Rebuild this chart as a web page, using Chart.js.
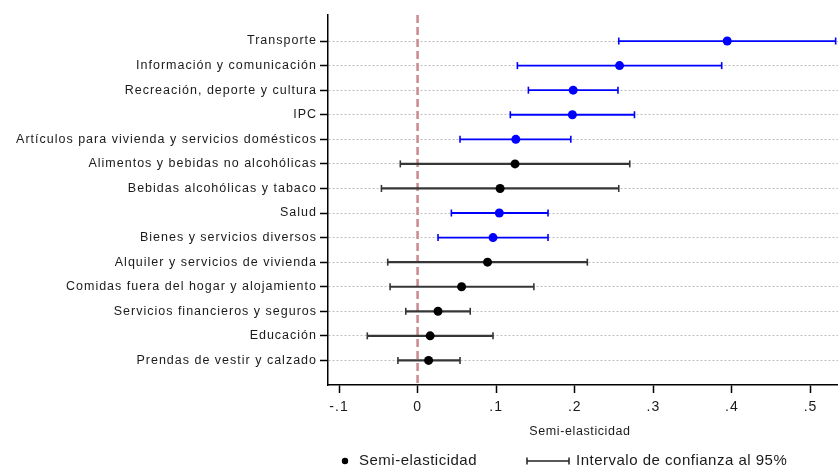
<!DOCTYPE html>
<html>
<head>
<meta charset="utf-8">
<script src="https://cdn.jsdelivr.net/npm/chart.js@4.4.1/dist/chart.umd.min.js"></script>
<style>
  html, body { margin: 0; padding: 0; background: #fff; }
  canvas { display: block; }
</style>
</head>
<body>
<canvas id="myChart" width="838" height="470"></canvas>
<script>
// === DATOS ===
const categories = [
  'Transporte',
  'Información y comunicación',
  'Recreación, deporte y cultura',
  'IPC',
  'Artículos para vivienda y servicios domésticos',
  'Alimentos y bebidas no alcohólicas',
  'Bebidas alcohólicas y tabaco',
  'Salud',
  'Bienes y servicios diversos',
  'Alquiler y servicios de vivienda',
  'Comidas fuera del hogar y alojamiento',
  'Servicios financieros y seguros',
  'Educación',
  'Prendas de vestir y calzado'
];
const estimates = [0.394, 0.257, 0.198, 0.197, 0.125, 0.124, 0.105, 0.104, 0.096, 0.089, 0.056, 0.026, 0.016, 0.014];
const ciLow = [0.256, 0.127, 0.141, 0.118, 0.054, -0.022, -0.046, 0.043, 0.026, -0.038, -0.035, -0.015, -0.064, -0.025];
const ciHigh = [0.532, 0.387, 0.255, 0.276, 0.195, 0.270, 0.256, 0.166, 0.166, 0.216, 0.148, 0.067, 0.096, 0.054];
const xTicks = [-0.1, 0, 0.1, 0.2, 0.3, 0.4, 0.5];

const BLUE = '#0000ff';
const DARK = '#363636';
const FONT = "'Liberation Sans', Arial, sans-serif";

// significativo si el intervalo no contiene el cero
const significant = ciLow.map((lo, i) => lo > 0 || ciHigh[i] < 0);

// intervalos de confianza : un dataset par ligne
const ciDatasets = categories.map((c, i) => ({
  type: 'line',
  label: c,
  data: [{ x: ciLow[i], y: i }, { x: ciHigh[i], y: i }],
  borderColor: significant[i] ? BLUE : DARK,
  borderWidth: significant[i] ? 1.8 : 2.2,
  pointStyle: 'line',
  rotation: 90,
  pointRadius: 3.5,
  pointHoverRadius: 3.5,
  pointBorderColor: significant[i] ? BLUE : DARK,
  pointBorderWidth: 1.6,
  order: 2
}));

// ligne verticale en zéro
const zeroLine = {
  type: 'line',
  label: 'cero',
  data: [{ x: 0, y: -1.06 }, { x: 0, y: 14 }],
  borderColor: '#c98a90',
  borderWidth: 2.5,
  borderDash: [8, 4],
  pointRadius: 0,
  order: 3
};

const pointsDataset = {
  type: 'scatter',
  label: 'Semi-elasticidad',
  data: estimates.map((v, i) => ({ x: v, y: i })),
  pointRadius: 4.5,
  pointHoverRadius: 4.5,
  pointBackgroundColor: significant.map(s => s ? BLUE : '#000'),
  pointBorderColor: significant.map(s => s ? BLUE : '#000'),
  pointBorderWidth: 0,
  order: 1
};

// texte additionnel : titre d'axe + légende
const extraText = {
  id: 'extraText',
  beforeDraw(chart) {
    chart.ctx.letterSpacing = '1px';
  },
  afterDraw(chart) {
    const ctx = chart.ctx;
    ctx.save();
    ctx.fillStyle = '#1a1a1a';
    ctx.textBaseline = 'middle';

    // titre axe X
    ctx.letterSpacing = '0.6px';
    ctx.font = '12.5px ' + FONT;
    ctx.textAlign = 'center';
    ctx.fillText('Semi-elasticidad', 580, 432);

    // légende
    const ly = 461;
    ctx.fillStyle = '#000';
    ctx.beginPath();
    ctx.arc(345, ly, 3.2, 0, Math.PI * 2);
    ctx.fill();

    ctx.font = '15px ' + FONT;
    ctx.letterSpacing = '0.5px';
    ctx.textAlign = 'left';
    ctx.fillStyle = '#1a1a1a';
    ctx.fillText('Semi-elasticidad', 359, ly);

    ctx.strokeStyle = '#222';
    ctx.lineWidth = 1.5;
    ctx.beginPath();
    ctx.moveTo(527, ly); ctx.lineTo(569, ly);
    ctx.moveTo(527, ly - 3.5); ctx.lineTo(527, ly + 3.5);
    ctx.moveTo(569, ly - 3.5); ctx.lineTo(569, ly + 3.5);
    ctx.stroke();

    ctx.fillText('Intervalo de confianza al 95%', 576, ly);
    ctx.restore();
  }
};

new Chart(document.getElementById('myChart'), {
  data: {
    datasets: [zeroLine, ...ciDatasets, pointsDataset]
  },
  options: {
    responsive: false,
    animation: false,
    devicePixelRatio: 1,
    layout: { autoPadding: false, padding: { top: 15, right: 0, left: 0, bottom: 0 } },
    plugins: {
      legend: { display: false },
      tooltip: { enabled: false },
      title: { display: false }
    },
    scales: {
      x: {
        type: 'linear',
        min: -0.114,
        max: 0.535,
        afterBuildTicks: scale => { scale.ticks = xTicks.map(v => ({ value: v })); },
        afterFit: scale => { scale.height = 85; },
        ticks: {
          color: '#1a1a1a',
          font: { family: FONT, size: 14 },
          padding: 6,
          maxRotation: 0,
          autoSkip: false,
          callback: v => v === 0 ? '0' : (v < 0 ? '-' : '') + String(Math.abs(Math.round(v * 10) / 10)).replace(/^0/, '')
        },
        grid: {
          drawOnChartArea: false,
          drawTicks: true,
          tickLength: 8,
          tickColor: '#000',
          tickWidth: 1.5,
          tickBorderDash: []
        },
        border: { display: true, color: '#000', width: 1.5 }
      },
      y: {
        type: 'linear',
        reverse: true,
        min: -1.06,
        max: 14,
        afterBuildTicks: scale => { scale.ticks = categories.map((c, i) => ({ value: i })); },
        afterFit: scale => { scale.width = 328; },
        ticks: {
          color: '#1a1a1a',
          font: { family: FONT, size: 12.5 },
          padding: 3,
          autoSkip: false,
          callback: v => categories[v]
        },
        grid: {
          color: '#bdbdbd',
          lineWidth: 1,
          drawTicks: true,
          tickLength: 8,
          tickColor: '#000',
          tickWidth: 1.5,
          tickBorderDash: []
        },
        border: { display: true, color: '#000', width: 1.5, dash: [2, 2] }
      }
    }
  },
  plugins: [extraText]
});
</script>
</body>
</html>
